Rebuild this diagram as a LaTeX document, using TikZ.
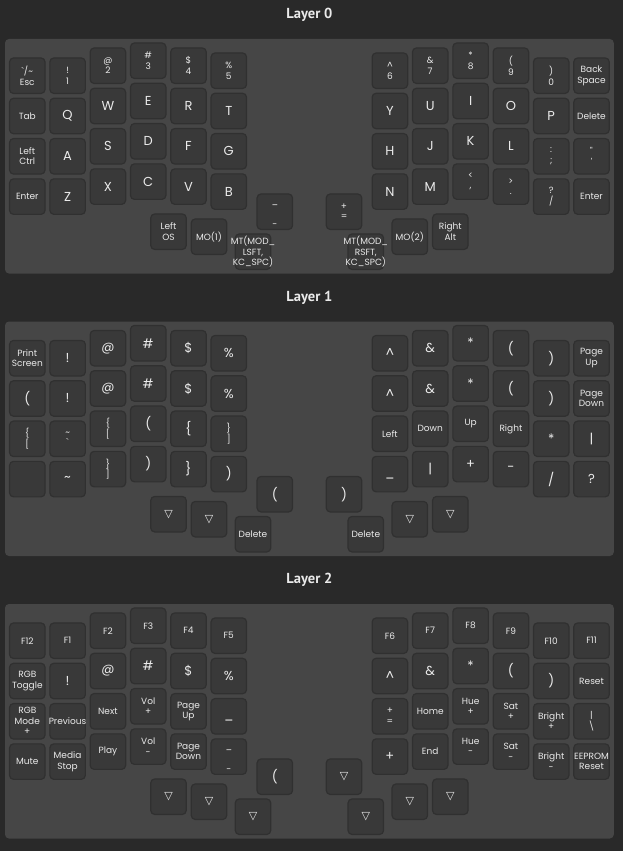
\documentclass[tikz,border=0pt]{standalone}
\usepackage{fontspec}
\setmainfont{Poppins}[Ligatures=TeXOff]
\newfontfamily\titlefont{PT Sans}[Ligatures=TeXOff]
\newfontfamily\symfont{DejaVu Sans}
\definecolor{bgc}{HTML}{292929}
\definecolor{panelc}{HTML}{464646}
\definecolor{keyc}{HTML}{393939}
\definecolor{keyedge}{HTML}{303030}
\definecolor{txtc}{HTML}{EAEAEA}
\tikzset{
 keycap/.style={draw=keyedge, fill=keyc, line width=1.2pt, rounded corners=4pt, minimum width=35.5pt, minimum height=35.5pt, inner sep=0pt},
 keylabel/.style={inner sep=0pt, text=txtc, align=center, font=\fontsize{9}{10.5}\selectfont},
 big/.style={font=\fontsize{13}{14}\selectfont},
 under/.style={font=\fontsize{13}{14}\selectfont, yshift=-4pt},
 tri/.style={font=\fontsize{11}{12}\symfont},
 minus/.style={yshift=-4.5pt},
 panelbox/.style={fill=panelc, rounded corners=4pt},
 layertitle/.style={text=txtc, inner sep=0pt, font=\fontsize{14.5}{16}\titlefont\bfseries}
}
\newcommand\keyK[5]{%
 \pgfmathsetmacro\kx{{27.3,67.6,107.9,148.2,188.5,228.8,389.9,430.2,470.6,510.9,551.2,591.5}[#2]}%
 \pgfmathsetmacro\ko{{0,0,-10,-15,-10,-5,-5,-10,-15,-10,0,0}[#2]}%
 \pgfmathsetmacro\ky{75.7+40.3*#3+\ko+282.5*#1}%
 \node[keycap] (k#1c#2r#3) at (\kx,\ky) {};
 \node[keylabel,#4] (k#1c#2r#3t) at (k#1c#2r#3) {#5};}
\newcommand\keyT[4]{%
 \pgfmathsetmacro\kx{{274.8,168.5,209,253,344,450.3,409.8,365.8}[#2]}%
 \pgfmathsetmacro\ky{{211.7,231.7,236.7,251.7,211.7,231.7,236.7,251.7}[#2]+282.5*#1}%
 \node[keycap] (t#1i#2) at (\kx,\ky) {};
 \node[keylabel,#3] (t#1i#2t) at (t#1i#2) {#4};}
\begin{document}
\begin{tikzpicture}[x=1pt,y=-1pt]
\useasboundingbox (0,0) rectangle (623,851);
\fill[bgc] (0,0) rectangle (623,851);
% titles and panels
\node[layertitle] (title0) at (309.4,15.3) {Layer 0};
\node[layertitle] (title1) at (309.4,297.8) {Layer 1};
\node[layertitle] (title2) at (309.4,580.3) {Layer 2};
\fill[panelbox] (5,39) rectangle (613.8,273.5);
\fill[panelbox] (5,321.5) rectangle (613.8,556);
\fill[panelbox] (5,604) rectangle (613.8,838.5);
% ---------------- Layer 0
\keyK{0}{0}{0}{}{`/\textasciitilde\\Esc}
\keyK{0}{0}{1}{}{Tab}
\keyK{0}{0}{2}{}{Left\\Ctrl}
\keyK{0}{0}{3}{}{Enter}
\keyK{0}{1}{0}{}{!\\1}
\keyK{0}{1}{1}{big}{Q}
\keyK{0}{1}{2}{big}{A}
\keyK{0}{1}{3}{big}{Z}
\keyK{0}{2}{0}{}{@\\2}
\keyK{0}{2}{1}{big}{W}
\keyK{0}{2}{2}{big}{S}
\keyK{0}{2}{3}{big}{X}
\keyK{0}{3}{0}{}{\#\\3}
\keyK{0}{3}{1}{big}{E}
\keyK{0}{3}{2}{big}{D}
\keyK{0}{3}{3}{big}{C}
\keyK{0}{4}{0}{}{\$\\4}
\keyK{0}{4}{1}{big}{R}
\keyK{0}{4}{2}{big}{F}
\keyK{0}{4}{3}{big}{V}
\keyK{0}{5}{0}{}{\%\\5}
\keyK{0}{5}{1}{big}{T}
\keyK{0}{5}{2}{big}{G}
\keyK{0}{5}{3}{big}{B}
\keyK{0}{6}{0}{}{\textasciicircum\\6}
\keyK{0}{6}{1}{big}{Y}
\keyK{0}{6}{2}{big}{H}
\keyK{0}{6}{3}{big}{N}
\keyK{0}{7}{0}{}{\&\\7}
\keyK{0}{7}{1}{big}{U}
\keyK{0}{7}{2}{big}{J}
\keyK{0}{7}{3}{big}{M}
\keyK{0}{8}{0}{}{*\\8}
\keyK{0}{8}{1}{big}{I}
\keyK{0}{8}{2}{big}{K}
\keyK{0}{8}{3}{}{<\\,}
\keyK{0}{9}{0}{}{(\\9}
\keyK{0}{9}{1}{big}{O}
\keyK{0}{9}{2}{big}{L}
\keyK{0}{9}{3}{}{>\\.}
\keyK{0}{10}{0}{}{)\\0}
\keyK{0}{10}{1}{big}{P}
\keyK{0}{10}{2}{}{:\\;}
\keyK{0}{10}{3}{}{?\\/}
\keyK{0}{11}{0}{}{Back\\Space}
\keyK{0}{11}{1}{}{Delete}
\keyK{0}{11}{2}{}{"\\'}
\keyK{0}{11}{3}{}{Enter}
\keyT{0}{0}{minus}{\_\\[12pt]-}
\keyT{0}{1}{}{Left\\OS}
\keyT{0}{2}{}{MO(1)}
\keyT{0}{3}{}{MT(MOD\_\\LSFT,\\KC\_SPC)}
\keyT{0}{4}{}{+\\=}
\keyT{0}{5}{}{Right\\Alt}
\keyT{0}{6}{}{MO(2)}
\keyT{0}{7}{}{MT(MOD\_\\RSFT,\\KC\_SPC)}
% ---------------- Layer 1
\keyK{1}{0}{0}{}{Print\\Screen}
\keyK{1}{0}{1}{big}{(}
\keyK{1}{0}{2}{}{\{\\{[}}
\keyK{1}{0}{3}{}{}
\keyK{1}{1}{0}{big}{!}
\keyK{1}{1}{1}{big}{!}
\keyK{1}{1}{2}{}{\textasciitilde\\`}
\keyK{1}{1}{3}{big}{\textasciitilde}
\keyK{1}{2}{0}{big}{@}
\keyK{1}{2}{1}{big}{@}
\keyK{1}{2}{2}{}{\{\\{[}}
\keyK{1}{2}{3}{}{\}\\{]}}
\keyK{1}{3}{0}{big}{\#}
\keyK{1}{3}{1}{big}{\#}
\keyK{1}{3}{2}{big}{(}
\keyK{1}{3}{3}{big}{)}
\keyK{1}{4}{0}{big}{\$}
\keyK{1}{4}{1}{big}{\$}
\keyK{1}{4}{2}{big}{\{}
\keyK{1}{4}{3}{big}{\}}
\keyK{1}{5}{0}{big}{\%}
\keyK{1}{5}{1}{big}{\%}
\keyK{1}{5}{2}{}{\}\\{]}}
\keyK{1}{5}{3}{big}{)}
\keyK{1}{6}{0}{big}{\textasciicircum}
\keyK{1}{6}{1}{big}{\textasciicircum}
\keyK{1}{6}{2}{}{Left}
\keyK{1}{6}{3}{under}{\_}
\keyK{1}{7}{0}{big}{\&}
\keyK{1}{7}{1}{big}{\&}
\keyK{1}{7}{2}{}{Down}
\keyK{1}{7}{3}{big}{|}
\keyK{1}{8}{0}{big}{*}
\keyK{1}{8}{1}{big}{*}
\keyK{1}{8}{2}{}{Up}
\keyK{1}{8}{3}{big}{+}
\keyK{1}{9}{0}{big}{(}
\keyK{1}{9}{1}{big}{(}
\keyK{1}{9}{2}{}{Right}
\keyK{1}{9}{3}{big}{-}
\keyK{1}{10}{0}{big}{)}
\keyK{1}{10}{1}{big}{)}
\keyK{1}{10}{2}{big}{*}
\keyK{1}{10}{3}{big}{/}
\keyK{1}{11}{0}{}{Page\\Up}
\keyK{1}{11}{1}{}{Page\\Down}
\keyK{1}{11}{2}{big}{|}
\keyK{1}{11}{3}{big}{?}
\keyT{1}{0}{big}{(}
\keyT{1}{1}{tri}{▽}
\keyT{1}{2}{tri}{▽}
\keyT{1}{3}{}{Delete}
\keyT{1}{4}{big}{)}
\keyT{1}{5}{tri}{▽}
\keyT{1}{6}{tri}{▽}
\keyT{1}{7}{}{Delete}
% ---------------- Layer 2
\keyK{2}{0}{0}{}{F12}
\keyK{2}{0}{1}{}{RGB\\Toggle}
\keyK{2}{0}{2}{}{RGB\\Mode\\+}
\keyK{2}{0}{3}{}{Mute}
\keyK{2}{1}{0}{}{F1}
\keyK{2}{1}{1}{big}{!}
\keyK{2}{1}{2}{}{Previous}
\keyK{2}{1}{3}{}{Media\\Stop}
\keyK{2}{2}{0}{}{F2}
\keyK{2}{2}{1}{big}{@}
\keyK{2}{2}{2}{}{Next}
\keyK{2}{2}{3}{}{Play}
\keyK{2}{3}{0}{}{F3}
\keyK{2}{3}{1}{big}{\#}
\keyK{2}{3}{2}{}{Vol\\+}
\keyK{2}{3}{3}{}{Vol\\-}
\keyK{2}{4}{0}{}{F4}
\keyK{2}{4}{1}{big}{\$}
\keyK{2}{4}{2}{}{Page\\Up}
\keyK{2}{4}{3}{}{Page\\Down}
\keyK{2}{5}{0}{}{F5}
\keyK{2}{5}{1}{big}{\%}
\keyK{2}{5}{2}{under}{\_}
\keyK{2}{5}{3}{minus}{\_\\[12pt]-}
\keyK{2}{6}{0}{}{F6}
\keyK{2}{6}{1}{big}{\textasciicircum}
\keyK{2}{6}{2}{}{+\\=}
\keyK{2}{6}{3}{big}{+}
\keyK{2}{7}{0}{}{F7}
\keyK{2}{7}{1}{big}{\&}
\keyK{2}{7}{2}{}{Home}
\keyK{2}{7}{3}{}{End}
\keyK{2}{8}{0}{}{F8}
\keyK{2}{8}{1}{big}{*}
\keyK{2}{8}{2}{}{Hue\\+}
\keyK{2}{8}{3}{}{Hue\\-}
\keyK{2}{9}{0}{}{F9}
\keyK{2}{9}{1}{big}{(}
\keyK{2}{9}{2}{}{Sat\\+}
\keyK{2}{9}{3}{}{Sat\\-}
\keyK{2}{10}{0}{}{F10}
\keyK{2}{10}{1}{big}{)}
\keyK{2}{10}{2}{}{Bright\\+}
\keyK{2}{10}{3}{}{Bright\\-}
\keyK{2}{11}{0}{}{F11}
\keyK{2}{11}{1}{}{Reset}
\keyK{2}{11}{2}{}{|\\\textbackslash}
\keyK{2}{11}{3}{}{EEPROM\\Reset}
\keyT{2}{0}{big}{(}
\keyT{2}{1}{tri}{▽}
\keyT{2}{2}{tri}{▽}
\keyT{2}{3}{tri}{▽}
\keyT{2}{4}{tri}{▽}
\keyT{2}{5}{tri}{▽}
\keyT{2}{6}{tri}{▽}
\keyT{2}{7}{tri}{▽}
\end{tikzpicture}
\end{document}
